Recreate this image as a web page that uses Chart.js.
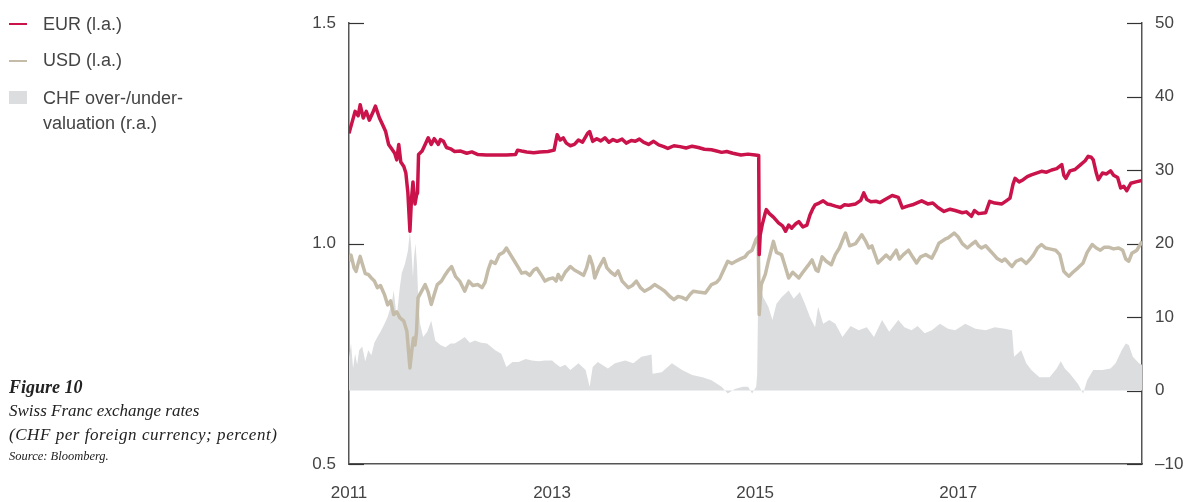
<!DOCTYPE html>
<html lang="en">
<head>
  <meta charset="UTF-8" />
  <title>Swiss Franc exchange rates</title>
  <script src="https://cdn.jsdelivr.net/npm/chart.js"></script>
  <style>
    html, body { margin: 0; padding: 0; background: #fff; }
    body {
      position: relative;
      width: 1185px;
      height: 502px;
      overflow: hidden;
      font-family: "Liberation Sans", Arial, sans-serif;
      color: #444;
    }
    #chart { position: absolute; left: 0; top: 0; }
    .key { position: absolute; font-size: 18px; line-height: 25px; white-space: nowrap; color: #444; }
    .swatch { position: absolute; left: 9px; width: 18px; }
    .caption {
      position: absolute;
      left: 9px;
      font-family: "Liberation Serif", "DejaVu Serif", serif;
      font-style: italic;
      color: #222;
      white-space: nowrap;
    }
  </style>
</head>
<body>

  <canvas id="chart" width="1185" height="502"></canvas>

  <!-- legend -->
  <div class="swatch" style="top:23px; height:2px; background:#c9134a;"></div>
  <div class="key" style="left:43px; top:12px;">EUR (l.a.)</div>
  <div class="swatch" style="top:60px; height:2px; background:#c4bca9;"></div>
  <div class="key" style="left:43px; top:48px;">USD (l.a.)</div>
  <div class="swatch" style="top:91px; height:13px; background:#dcdddf;"></div>
  <div class="key" style="left:43px; top:86px;">CHF over-/under-<br>valuation (r.a.)</div>

  <!-- caption -->
  <div class="caption" style="top:375px; font-size:18px; line-height:24px; font-weight:bold;">Figure 10</div>
  <div class="caption" style="top:399px; font-size:17px; line-height:24px;">Swiss Franc exchange rates</div>
  <div class="caption" style="top:423px; font-size:17px; line-height:24px; letter-spacing:0.55px;">(CHF per foreign currency; percent)</div>
  <div class="caption" style="top:449px; font-size:12.5px; line-height:15px;">Source: Bloomberg.</div>

  <script>
    const yearTicks = [2011, 2013, 2015, 2017];
    const leftTicks = [0.5, 1.0, 1.5];
    const rightTicks = [-10, 0, 10, 20, 30, 40, 50];

    // EUR/CHF, left axis
    const eurYears = [
      2011.00, 2011.03, 2011.06, 2011.09, 2011.11, 2011.14, 2011.17, 2011.20, 2011.23, 2011.26,
      2011.30, 2011.33, 2011.36, 2011.39, 2011.42, 2011.45, 2011.47, 2011.49, 2011.51, 2011.54,
      2011.56, 2011.58, 2011.60, 2011.615, 2011.63, 2011.65, 2011.665, 2011.675, 2011.685, 2011.72,
      2011.75, 2011.78, 2011.81, 2011.84, 2011.88, 2011.90, 2011.93, 2011.96, 2012.00, 2012.04,
      2012.10, 2012.16, 2012.21, 2012.27, 2012.35, 2012.45, 2012.55, 2012.64, 2012.66, 2012.70,
      2012.75, 2012.82, 2012.88, 2012.96, 2013.02, 2013.05, 2013.08, 2013.11, 2013.14, 2013.18,
      2013.22, 2013.26, 2013.30, 2013.35, 2013.37, 2013.40, 2013.44, 2013.48, 2013.52, 2013.56,
      2013.60, 2013.64, 2013.69, 2013.73, 2013.78, 2013.82, 2013.86, 2013.90, 2013.95, 2014.00,
      2014.05, 2014.10, 2014.14, 2014.20, 2014.26, 2014.32, 2014.38, 2014.44, 2014.50, 2014.57,
      2014.62, 2014.67, 2014.72, 2014.78, 2014.86, 2014.93, 2015.00, 2015.035, 2015.04, 2015.05,
      2015.07, 2015.10, 2015.11, 2015.14, 2015.18, 2015.23, 2015.27, 2015.30, 2015.33, 2015.36,
      2015.40, 2015.43, 2015.47, 2015.51, 2015.54, 2015.57, 2015.59, 2015.63, 2015.67, 2015.71,
      2015.75, 2015.79, 2015.84, 2015.88, 2015.92, 2015.99, 2016.04, 2016.07, 2016.10, 2016.14,
      2016.19, 2016.23, 2016.28, 2016.35, 2016.41, 2016.45, 2016.50, 2016.55, 2016.60, 2016.64,
      2016.70, 2016.75, 2016.80, 2016.86, 2016.92, 2016.97, 2017.04, 2017.08, 2017.13, 2017.16,
      2017.20, 2017.27, 2017.31, 2017.36, 2017.43, 2017.48, 2017.51, 2017.54, 2017.56, 2017.60,
      2017.64, 2017.68, 2017.72, 2017.77, 2017.82, 2017.87, 2017.92, 2017.97, 2018.02, 2018.04,
      2018.06, 2018.10, 2018.15, 2018.20, 2018.25, 2018.28, 2018.31, 2018.33, 2018.36, 2018.38,
      2018.42, 2018.46, 2018.50, 2018.53, 2018.57, 2018.60, 2018.63, 2018.66, 2018.70, 2018.75,
      2018.81
    ];
    const eurValues = [
      1.250, 1.275, 1.300, 1.290, 1.315, 1.285, 1.300, 1.280, 1.295, 1.312,
      1.285, 1.270, 1.255, 1.225, 1.215, 1.205, 1.190, 1.225, 1.185, 1.175,
      1.160, 1.115, 1.028, 1.100, 1.140, 1.090, 1.110, 1.115, 1.202, 1.210,
      1.225, 1.240, 1.225, 1.238, 1.225, 1.236, 1.232, 1.218, 1.215, 1.209,
      1.210, 1.205, 1.208, 1.202, 1.201, 1.201, 1.201, 1.202, 1.212, 1.210,
      1.208, 1.206, 1.208, 1.209, 1.212, 1.247, 1.235, 1.240, 1.228, 1.222,
      1.225, 1.235, 1.230, 1.250, 1.254, 1.232, 1.238, 1.233, 1.240, 1.230,
      1.236, 1.232, 1.237, 1.228, 1.234, 1.232, 1.237, 1.230, 1.225, 1.232,
      1.224, 1.220, 1.216, 1.222, 1.220, 1.217, 1.221, 1.218, 1.214, 1.213,
      1.210, 1.207, 1.209, 1.205, 1.201, 1.203, 1.201, 1.200, 0.975, 1.020,
      1.043, 1.070, 1.077, 1.068, 1.060, 1.047, 1.040, 1.028, 1.042, 1.035,
      1.045, 1.050, 1.038, 1.042, 1.065, 1.080, 1.088, 1.092, 1.097, 1.090,
      1.088, 1.085, 1.082, 1.088, 1.087, 1.090, 1.098, 1.115, 1.100, 1.095,
      1.096, 1.093, 1.100, 1.109, 1.105, 1.081, 1.085, 1.088, 1.093, 1.097,
      1.090, 1.092, 1.082, 1.073, 1.078, 1.075, 1.070, 1.072, 1.062, 1.075,
      1.068, 1.070, 1.096, 1.092, 1.090, 1.098, 1.103, 1.135, 1.148, 1.140,
      1.145, 1.152, 1.156, 1.160, 1.164, 1.162, 1.167, 1.170, 1.179, 1.155,
      1.148, 1.165, 1.168, 1.178, 1.188, 1.198, 1.196, 1.190, 1.160, 1.145,
      1.160, 1.158, 1.165, 1.155, 1.150, 1.126, 1.130, 1.120, 1.137, 1.140,
      1.143
    ];

    // USD/CHF, left axis
    const usdYears = [
      2011.00, 2011.02, 2011.05, 2011.07, 2011.09, 2011.11, 2011.13, 2011.16, 2011.19, 2011.22,
      2011.25, 2011.28, 2011.31, 2011.35, 2011.38, 2011.41, 2011.44, 2011.47, 2011.50, 2011.54,
      2011.57, 2011.60, 2011.62, 2011.635, 2011.65, 2011.665, 2011.68, 2011.71, 2011.75, 2011.78,
      2011.81, 2011.84, 2011.87, 2011.91, 2011.95, 2011.98, 2012.01, 2012.05, 2012.09, 2012.14,
      2012.18, 2012.22, 2012.27, 2012.31, 2012.34, 2012.37, 2012.40, 2012.44, 2012.48, 2012.52,
      2012.55, 2012.59, 2012.63, 2012.67, 2012.70, 2012.74, 2012.78, 2012.82, 2012.85, 2012.89,
      2012.93, 2012.97, 2013.01, 2013.04, 2013.06, 2013.09, 2013.13, 2013.18, 2013.22, 2013.26,
      2013.31, 2013.34, 2013.37, 2013.40, 2013.42, 2013.46, 2013.51, 2013.54, 2013.58, 2013.62,
      2013.65, 2013.69, 2013.75, 2013.79, 2013.83, 2013.87, 2013.91, 2013.96, 2014.01, 2014.06,
      2014.11, 2014.16, 2014.20, 2014.24, 2014.28, 2014.32, 2014.36, 2014.39, 2014.44, 2014.51,
      2014.57, 2014.62, 2014.65, 2014.69, 2014.73, 2014.77, 2014.81, 2014.86, 2014.90, 2014.93,
      2014.97, 2015.01, 2015.03, 2015.04, 2015.06, 2015.10, 2015.13, 2015.18, 2015.21, 2015.26,
      2015.30, 2015.33, 2015.37, 2015.43, 2015.47, 2015.52, 2015.56, 2015.60, 2015.62, 2015.66,
      2015.70, 2015.75, 2015.79, 2015.83, 2015.89, 2015.93, 2015.99, 2016.05, 2016.09, 2016.12,
      2016.15, 2016.21, 2016.25, 2016.29, 2016.33, 2016.39, 2016.42, 2016.46, 2016.51, 2016.55,
      2016.59, 2016.63, 2016.68, 2016.74, 2016.78, 2016.81, 2016.87, 2016.90, 2016.96, 2017.00,
      2017.04, 2017.09, 2017.13, 2017.17, 2017.20, 2017.23, 2017.27, 2017.31, 2017.35, 2017.38,
      2017.43, 2017.46, 2017.50, 2017.53, 2017.57, 2017.62, 2017.67, 2017.71, 2017.74, 2017.78,
      2017.82, 2017.86, 2017.90, 2017.96, 2018.00, 2018.04, 2018.07, 2018.09, 2018.13, 2018.18,
      2018.23, 2018.27, 2018.32, 2018.36, 2018.40, 2018.44, 2018.48, 2018.53, 2018.58, 2018.62,
      2018.65, 2018.68, 2018.71, 2018.76, 2018.81
    ];
    const usdValues = [
      0.960, 0.974, 0.945, 0.937, 0.955, 0.971, 0.955, 0.932, 0.930, 0.922,
      0.915, 0.900, 0.905, 0.884, 0.861, 0.870, 0.839, 0.845, 0.832, 0.824,
      0.801, 0.718, 0.760, 0.786, 0.770, 0.800, 0.877, 0.890, 0.907, 0.890,
      0.862, 0.885, 0.907, 0.915, 0.930, 0.940, 0.948, 0.925, 0.915, 0.892,
      0.915, 0.905, 0.907, 0.900, 0.912, 0.940, 0.960, 0.955, 0.975, 0.980,
      0.990, 0.975, 0.960, 0.945, 0.933, 0.935, 0.928, 0.940, 0.944, 0.930,
      0.915, 0.920, 0.922, 0.915, 0.930, 0.918, 0.935, 0.948, 0.940, 0.935,
      0.928, 0.945, 0.971, 0.950, 0.922, 0.945, 0.966, 0.945, 0.935, 0.928,
      0.938, 0.915, 0.900, 0.905, 0.915, 0.900, 0.892, 0.898, 0.907, 0.900,
      0.892, 0.880, 0.873, 0.880, 0.878, 0.873, 0.885, 0.892, 0.890, 0.888,
      0.907, 0.912, 0.920, 0.940, 0.960, 0.955, 0.960, 0.966, 0.970, 0.979,
      0.985, 1.010, 1.016, 0.839, 0.907, 0.930, 0.960, 1.005, 0.980, 0.975,
      0.945, 0.922, 0.935, 0.922, 0.935, 0.950, 0.963, 0.940, 0.937, 0.970,
      0.960, 0.952, 0.975, 0.990, 1.024, 0.995, 1.000, 1.020, 1.005, 0.990,
      0.995, 0.956, 0.965, 0.974, 0.965, 0.985, 0.965, 0.975, 0.985, 0.970,
      0.956, 0.970, 0.975, 0.967, 0.985, 1.001, 1.010, 1.013, 1.024, 1.015,
      1.000, 0.990, 0.998, 1.005, 0.995, 0.990, 0.995, 0.985, 0.975, 0.967,
      0.960, 0.965, 0.955, 0.948, 0.960, 0.965, 0.955, 0.965, 0.974, 0.990,
      0.998, 0.990, 0.988, 0.985, 0.975, 0.937, 0.930, 0.926, 0.935, 0.945,
      0.956, 0.980, 0.998, 0.990, 0.985, 0.992, 0.992, 0.988, 0.990, 0.985,
      0.965, 0.960, 0.978, 0.985, 1.005
    ];

    // CHF over-/under-valuation in percent, right axis
    const chfYears = [
      2011.00, 2011.02, 2011.04, 2011.06, 2011.08, 2011.10, 2011.13, 2011.16, 2011.19, 2011.22,
      2011.25, 2011.28, 2011.31, 2011.35, 2011.38, 2011.42, 2011.44, 2011.47, 2011.50, 2011.52,
      2011.55, 2011.58, 2011.60, 2011.615, 2011.63, 2011.64, 2011.655, 2011.67, 2011.685, 2011.70,
      2011.73, 2011.77, 2011.81, 2011.85, 2011.90, 2011.95, 2012.00, 2012.04, 2012.09, 2012.14,
      2012.19, 2012.24, 2012.30, 2012.36, 2012.44, 2012.50, 2012.55, 2012.61, 2012.67, 2012.74,
      2012.80, 2012.87, 2012.93, 2013.00, 2013.03, 2013.08, 2013.13, 2013.18, 2013.26, 2013.33,
      2013.37, 2013.40, 2013.45, 2013.55, 2013.62, 2013.72, 2013.80, 2013.88, 2013.95, 2013.98,
      2013.99, 2014.08, 2014.18, 2014.28, 2014.38, 2014.48, 2014.57, 2014.67, 2014.73, 2014.80,
      2014.88, 2014.93, 2014.97, 2015.01, 2015.02, 2015.035, 2015.05, 2015.08, 2015.13, 2015.17,
      2015.21, 2015.26, 2015.33, 2015.38, 2015.44, 2015.49, 2015.54, 2015.59, 2015.62, 2015.67,
      2015.73, 2015.79, 2015.86, 2015.94, 2016.02, 2016.10, 2016.17, 2016.25, 2016.32, 2016.41,
      2016.47, 2016.54, 2016.60, 2016.67, 2016.74, 2016.82, 2016.90, 2016.97, 2017.07, 2017.17,
      2017.27, 2017.36, 2017.46, 2017.53, 2017.55, 2017.62, 2017.67, 2017.72, 2017.80, 2017.90,
      2017.97, 2018.01, 2018.05, 2018.10, 2018.18, 2018.23, 2018.27, 2018.33, 2018.42, 2018.50,
      2018.55, 2018.61, 2018.65, 2018.68, 2018.72, 2018.78, 2018.81
    ];
    const chfValues = [
      4.5, 6.4, 3.0, 5.0, 3.5, 5.5, 6.0, 4.0, 5.5, 4.8,
      6.5, 7.3, 8.0, 9.1, 10.0, 11.8, 13.6, 10.0, 14.0, 16.0,
      17.2, 19.0, 21.7, 19.0, 15.5, 18.1, 20.0, 17.0, 11.4, 9.1,
      7.3, 8.0, 9.5, 6.8, 6.2, 5.9, 6.4, 6.4, 6.8, 7.3,
      6.5, 6.8, 6.5, 6.4, 5.5, 5.0, 3.2, 3.9, 3.9, 4.3,
      4.1, 4.0, 4.1, 4.1, 3.7, 3.2, 3.5, 2.8, 3.7, 2.8,
      0.5, 3.2, 3.9, 3.0, 3.7, 4.1, 3.7, 4.6, 4.8, 4.9,
      2.3, 2.5, 3.7, 2.8, 2.1, 1.8, 1.4, 0.5, -0.4, 0.2,
      0.5, 0.5, -0.4, 0.5, 2.3, 18.6, 14.1, 12.7, 11.4, 9.6,
      11.8, 12.7, 13.6, 12.5, 13.4, 11.8, 10.0, 8.6, 11.4, 9.1,
      9.6, 9.1, 7.3, 8.8, 8.2, 8.6, 7.3, 9.6, 8.0, 9.6,
      8.6, 8.2, 8.8, 7.8, 8.2, 9.1, 8.4, 8.2, 9.1, 8.4,
      8.2, 8.6, 8.4, 8.2, 4.6, 5.5, 3.7, 2.8, 1.8, 1.8,
      3.0, 4.0, 3.0, 2.3, 0.9, -0.4, 1.4, 2.8, 2.8, 3.0,
      3.7, 5.5, 6.4, 6.2, 4.6, 3.7, 3.5
    ];

    function pairs(xs, ys) {
      return xs.map((x, i) => ({ x: x, y: ys[i] }));
    }

    const FONT = { family: '"Liberation Sans", Arial, sans-serif', size: 17 };

    // small tick marks pointing into the plot, as in the print version
    const innerTicks = {
      id: 'innerTicks',
      beforeDatasetsDraw(chart) {
        const ctx = chart.ctx;
        const area = chart.chartArea;
        const yl = chart.scales.yL;
        const yr = chart.scales.yR;
        ctx.save();
        ctx.strokeStyle = '#333';
        ctx.lineWidth = 1.2;
        leftTicks.forEach(v => {
          const y = Math.round(yl.getPixelForValue(v)) + 0.5;
          ctx.beginPath();
          ctx.moveTo(area.left, y);
          ctx.lineTo(area.left + 15, y);
          ctx.stroke();
        });
        rightTicks.forEach(v => {
          const y = Math.round(yr.getPixelForValue(v)) + 0.5;
          ctx.beginPath();
          ctx.moveTo(area.right - 15, y);
          ctx.lineTo(area.right, y);
          ctx.stroke();
        });
        ctx.restore();
      }
    };

    new Chart(document.getElementById('chart').getContext('2d'), {
      type: 'line',
      data: {
        datasets: [
          {
            label: 'EUR (l.a.)',
            data: pairs(eurYears, eurValues),
            yAxisID: 'yL',
            borderColor: '#c9134a',
            borderWidth: 3.5,
            pointRadius: 0,
            fill: false
          },
          {
            label: 'USD (l.a.)',
            data: pairs(usdYears, usdValues),
            yAxisID: 'yL',
            borderColor: '#c4bca9',
            borderWidth: 3.5,
            pointRadius: 0,
            fill: false
          },
          {
            label: 'CHF over-/under-valuation (r.a.)',
            data: pairs(chfYears, chfValues),
            yAxisID: 'yR',
            borderWidth: 0,
            borderColor: 'rgba(0,0,0,0)',
            backgroundColor: '#dcdddf',
            pointRadius: 0,
            fill: 'origin'
          }
        ]
      },
      options: {
        responsive: false,
        animation: false,
        devicePixelRatio: 1,
        layout: { padding: { top: 21, left: 0, right: 0, bottom: 0 } },
        elements: { line: { tension: 0, borderJoinStyle: 'round' } },
        plugins: {
          legend: { display: false },
          tooltip: { enabled: false }
        },
        scales: {
          x: {
            type: 'linear',
            min: 2011,
            max: 2018.81,
            grid: { display: false, drawTicks: false },
            border: { display: true, color: '#555', width: 1.5 },
            afterBuildTicks: s => { s.ticks = yearTicks.map(v => ({ value: v })); },
            afterFit: s => { s.height = 38; },
            ticks: {
              color: '#444',
              font: FONT,
              padding: 19,
              maxRotation: 0,
              autoSkip: false,
              callback: v => String(v)
            }
          },
          yL: {
            type: 'linear',
            position: 'left',
            min: 0.5,
            max: 1.5,
            grid: { display: false, drawTicks: false },
            border: { display: true, color: '#555', width: 1.5 },
            afterBuildTicks: s => { s.ticks = leftTicks.map(v => ({ value: v })); },
            afterFit: s => { s.width = 349; },
            ticks: {
              color: '#444',
              font: FONT,
              padding: 13,
              callback: v => v.toFixed(1)
            }
          },
          yR: {
            type: 'linear',
            position: 'right',
            min: -10,
            max: 50,
            grid: { display: false, drawTicks: false },
            border: { display: true, color: '#555', width: 1.5 },
            afterBuildTicks: s => { s.ticks = rightTicks.map(v => ({ value: v })); },
            afterFit: s => { s.width = 43; },
            ticks: {
              color: '#444',
              font: FONT,
              padding: 13,
              callback: v => v < 0 ? '\u2013' + Math.abs(v) : String(v)
            }
          }
        }
      },
      plugins: [innerTicks]
    });
  </script>
</body>
</html>
